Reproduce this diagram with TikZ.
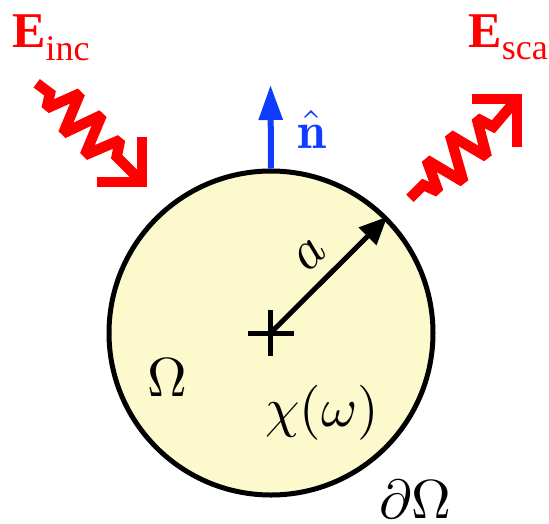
\RequirePackage{fix-cm}
\documentclass[tikz,border=0pt]{standalone}
\usepackage{fontspec}
\newfontfamily\tnr{Liberation Serif}
\DeclareFontShape{OML}{cmm}{m}{it}{<->cmmi10}{}
\DeclareFontShape{OMS}{cmsy}{m}{n}{<->cmsy10}{}
\DeclareFontShape{OT1}{cmr}{m}{n}{<->cmr10}{}
\DeclareFontShape{OT1}{cmr}{bx}{n}{<->cmbx10}{}
\DeclareSymbolFont{operators}{OT1}{cmr}{m}{n}
\DeclareMathAlphabet{\mathbf}{OT1}{cmr}{bx}{n}
\usetikzlibrary{arrows.meta}
\definecolor{ballfill}{RGB}{252,249,204}
\definecolor{nblue}{RGB}{15,60,255}
\tikzset{
  wave/.style={red, line width=10.5pt, line join=miter, miter limit=1.8},
  mathlab/.style={inner sep=0pt, font=\fontsize{55}{60}\selectfont},
  elab/.style={red, inner sep=0pt}
}
\begin{document}
\begin{tikzpicture}[x=1pt,y=-1pt]
\useasboundingbox (0,0) rectangle (549,523);
% sphere
\node[circle, draw, line width=5pt, fill=ballfill, minimum size=324pt, inner sep=0pt] (ball) at (271,333) {};
\coordinate (c) at (270.5,333);
% centre cross
\draw[line width=5pt] (c) ++(-23,0) -- ++(46,0);
\draw[line width=5pt] (c) ++(0,-23) -- ++(0,46);
% radius arrow
\draw[line width=5pt, -{Triangle[length=28pt,width=24pt]}] (c) -- (ball.45);
\node[mathlab, rotate=45] (alab) at (310,255) {$a$};
% normal
\coordinate (ntip) at (270.5,85);
\draw[nblue, line width=6pt, -{Triangle[length=35pt,width=23pt]}] (ball.north) -- (ntip);
\node[nblue, inner sep=0pt, anchor=base, font=\fontsize{52}{56}\selectfont] (nlab) at (311.5,148) {$\hat{\mathbf{n}}$};
% labels inside
\node[mathlab, anchor=base] (om) at (167,396) {$\Omega$};
\node[mathlab, anchor=base] (chi) at (322,426) {$\chi(\omega)$};
\node[mathlab, anchor=base] (dom) at (415,518) {$\partial\Omega$};
% field labels
\node[elab, anchor=base west] (einc) at (12,47) {\tnr\fontsize{50}{55}\selectfont\bfseries E\raisebox{-13pt}{\fontsize{36}{40}\selectfont\mdseries inc}};
\node[elab, anchor=base east] (esca) at (548,47) {\tnr\fontsize{50}{55}\selectfont\bfseries E\raisebox{-12pt}{\fontsize{36}{40}\selectfont\mdseries sca}};
% incident wave
\coordinate (itip) at (142,182);
\draw[wave] (36.7,83.3) -- (50,93.3) -- (46.7,108.3) -- (80,93.3) -- (63.3,133.3) -- (101.7,115) -- (85,155) -- (120,140) -- (116.7,156.7) -- (itip);
\draw[wave] (142,137) -- (itip) -- (97,182);
% scattered wave
\coordinate (stip) at (517,99);
\draw[wave] (410,198.3) -- (423.3,185) -- (438.3,191.7) -- (426.7,160) -- (463.3,181.7) -- (450,135) -- (486.7,156.7) -- (476.7,118.3) -- (493.3,126.7) -- (stip);
\draw[wave] (471.7,99) -- (stip) -- (517,147);
\end{tikzpicture}
\end{document}
